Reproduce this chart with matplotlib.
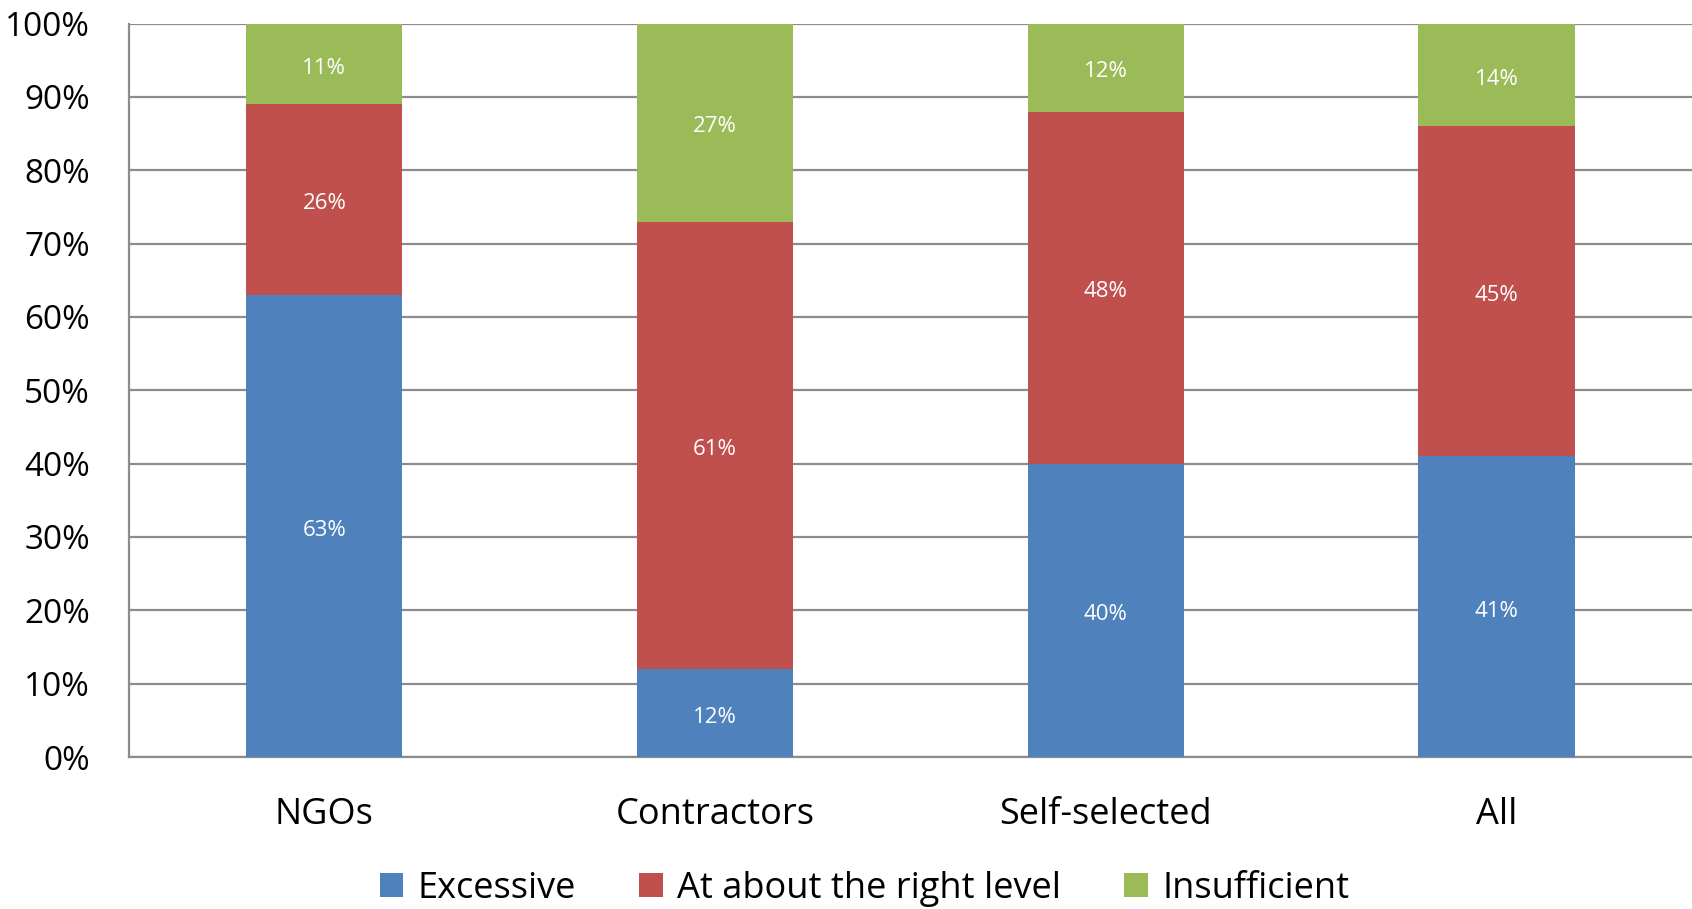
import matplotlib
matplotlib.use("Agg")
import matplotlib.pyplot as plt
import numpy as np
from matplotlib.ticker import FuncFormatter

plt.rcParams['font.family'] = ['Open Sans', 'DejaVu Sans']

categories = ["NGOs", "Contractors", "Self-selected", "All"]
series_names = ["Excessive", "At about the right level", "Insufficient"]
excessive = [63, 12, 40, 41]
right_level = [26, 61, 48, 45]
insufficient = [11, 27, 12, 14]
colors = ["#4F81BD", "#C0504D", "#9BBB59"]

fig = plt.figure(figsize=(16.92, 9.09), dpi=100)
ax = fig.add_axes([0.0762, 0.1672, 0.9238, 0.8069])

x = np.arange(len(categories))
bottom = np.zeros(len(categories))
handles = []
for name, vals, col in zip(series_names, [excessive, right_level, insufficient], colors):
    vals = np.array(vals, dtype=float)
    bars = ax.bar(x, vals, 0.4, bottom=bottom, color=col, label=name, zorder=3)
    handles.append(bars)
    for xi, b, v in zip(x, bottom, vals):
        ax.text(xi, b + v / 2 - 0.6, f"{int(v)}%", ha="center", va="center",
                color="white", fontsize=16, zorder=4)
    bottom += vals

ax.set_xlim(-0.5, 3.5)
ax.set_ylim(0, 100)
ax.set_yticks(np.arange(0, 101, 10))
ax.yaxis.set_major_formatter(FuncFormatter(lambda v, p: f"{int(v)}%"))
ax.yaxis.grid(True, color="#8C8C8C", linewidth=1.6, zorder=0)
ax.set_axisbelow(True)
ax.tick_params(axis="y", length=0, pad=28, labelsize=24)
ax.tick_params(axis="x", length=0, pad=29, labelsize=26)
ax.set_xticks(x)
ax.set_xticklabels(categories)
for s in ["top", "right"]:
    ax.spines[s].set_visible(False)
for s in ["left", "bottom"]:
    ax.spines[s].set_color("#8C8C8C")
    ax.spines[s].set_linewidth(1.6)

fig.legend(handles=handles, labels=series_names, loc="center",
           bbox_to_anchor=(0.511, 0.022), ncol=3, frameon=False,
           fontsize=26, handlelength=0.65, handleheight=0.65,
           handletextpad=0.4, columnspacing=1.75)

fig.savefig("out.png", dpi=100)
